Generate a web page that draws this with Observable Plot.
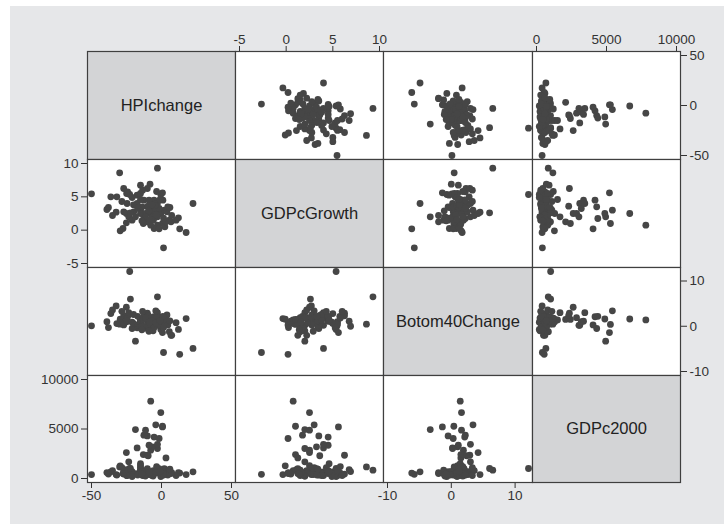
<!DOCTYPE html>
<html><head><meta charset="utf-8">
<script src="https://cdn.jsdelivr.net/npm/d3@7"></script>
<script src="https://cdn.jsdelivr.net/npm/@observablehq/plot@0.6"></script>
<style>
body{margin:0;background:#fff;font-family:'Liberation Sans',Arial,sans-serif;}
#bg{position:absolute;left:10px;top:6px;width:714px;height:518px;background:#e6e7e9;}
.cell{position:absolute;}
</style></head><body><div id="bg"></div><div id="root"></div>
<script>
const variables = ["HPIchange","GDPcGrowth","Botom40Change","GDPc2000"];

const HPIchange = [-50,-29.9,-2.9,22.5,1.45,13,17.6,12.1,-39,-37.9,-36.2,-31.9,-32.4,-29.5,-27.5,-27,-24.2,-22.7,-24.9,-15,-8.2,-10.1,-0.5,0.7,-24.6,-17.4,-15,-27,-25.1,-23.4,-21,-25.1,-17.4,-15.0,-12.6,-10.1,-5.3,-4.1,-7.7,-2.9,-0.5,2.0,3.9,5.6,0.7,-2.9,-5.3,-1.7,6.8,10.4,2.4,-7.7,-10.1,-12.6,-15.0,-19.8,-13.8,-18.6,-11.4,-6.5,-8.9,-2.9,-1.7,-15,3.2,-5.8,-13,-22.2,-9.5,-20,-6,4.5,7.3,-35,-3.5,1.0,-13.5,-9,-4.5,6.0,-28.3,-21,-6.8,-3.8,-11.5,1.5,-8.5,-17,-1.0,-14];
const GDPcGrowth = [5.45,8.6,9.3,4.0,-2.65,0.2,-0.35,1.85,3.1,3.4,5.0,5.0,2.7,-0.1,0.25,6.25,5.75,5.35,5.5,6.75,6.9,6.25,5.35,5.6,4.0,5.25,5.5,2.75,2.5,2.0,1.5,1.1,4.0,3.0,4.5,3.5,4.5,3.0,2.5,2.0,2.5,3.0,2.75,1.5,1.0,0.75,0.25,0.2,1.25,1.5,0.5,0.75,1.25,1.75,2.5,2.75,3.5,2.0,2.5,3.25,4.5,4.0,3.25,4.6,1.25,1.5,1.0,2.6,3.6,3.8,2.0,3.5,2.2,2.2,5.8,4.5,6.0,2.9,3.7,3.4,4.3,4.9,3.8,2.3,2.0,1.8,1.6,3.3,4.6,1.4];
const Botom40Change = [0.1,0.45,6.5,-4.9,-5.8,-6.2,1.7,-0.7,1.0,-0.3,2.8,0.6,4.5,1.55,0.8,2.3,2.2,12.1,1.0,1.1,0.0,2.9,-0.7,-1.4,1.8,-0.35,0.5,0.3,4.2,3.0,-0.5,1.2,0.2,1.5,2.0,-0.5,2.1,3.4,1.9,0.2,1.6,0.8,2.5,-1.2,0.4,0.6,-0.3,0.3,-2.0,0.8,1.1,1.4,0.5,2.2,1.0,0.6,0.0,-3.3,1.6,1.0,1.1,3.0,2.0,1.4,1.5,1.9,1.5,6.0,2.4,2.6,-1.0,0.3,-2.0,3.6,1.8,2.2,3.3,-1.1,0.9,1.2,3.3,0.9,1.3,0.7,1.8,-0.2,0.9,2.2,1.2,-0.8];
const GDPc2000 = [400,1170,840,670,420,550,400,600,600,450,670,350,400,1280,500,450,600,1010,300,900,700,2350,200,5210,300,500,800,600,2620,1680,700,900,3090,1100,800,4300,4180,5420,2860,3030,6660,1000,700,850,5280,800,600,4040,500,300,450,7810,1000,4380,1300,500,700,4940,4880,3200,3360,3450,1000,1500,2080,800,2420,1010,2300,400,250,350,600,800,1200,500,300,400,650,950,1100,200,300,550,250,350,600,350,700,450];

const tickValues = {
  HPIchange: [-50, 0, 50],
  GDPcGrowth: [-5, 0, 5, 10],
  Botom40Change: [-10, 0, 10],
  GDPc2000: [0, 5000, 10000]
};

const series = {HPIchange, GDPcGrowth, Botom40Change, GDPc2000};
const data = HPIchange.map((_, i) => ({
  HPIchange: HPIchange[i], GDPcGrowth: GDPcGrowth[i],
  Botom40Change: Botom40Change[i], GDPc2000: GDPc2000[i]
}));
const domains = {};
for (const v of variables) domains[v] = d3.extent(series[v].concat(tickValues[v]));

const colX = [87, 235, 383, 532, 680];
const rowY = [51, 159, 267, 375, 482];
const root = document.getElementById("root");
const style = {background: "transparent", fontFamily: "'Liberation Sans', Arial, sans-serif", fontSize: "13.5px", color: "#333", overflow: "visible"};

for (let r = 0; r < 4; r++) {
  for (let c = 0; c < 4; c++) {
    const w = colX[c + 1] - colX[c], h = rowY[r + 1] - rowY[r];
    const xv = variables[c], yv = variables[r];
    const xAxis = (c % 2 === 0) ? (r === 3 ? "bottom" : null) : (r === 0 ? "top" : null);
    const yAxis = (r % 2 === 0) ? (c === 3 ? "right" : null) : (c === 0 ? "left" : null);
    const mL = (yAxis === "left" ? 50 : 0) + 1;
    const mR = (yAxis === "right" ? 40 : 0) + 1;
    const mT = (xAxis === "top" ? 26 : 0) + 1;
    const mB = (xAxis === "bottom" ? 26 : 0) + 1;
    let chart;
    if (r === c) {
      chart = Plot.plot({
        width: w + mL + mR, height: h + mT + mB,
        marginLeft: mL, marginRight: mR, marginTop: mT, marginBottom: mB,
        style,
        marks: [
          Plot.frame({fill: "#d3d4d6", stroke: "#3f3f3f", strokeWidth: 1.2}),
          Plot.text([yv], {text: d => d, frameAnchor: "middle", fontSize: 16.5, fill: "#222"})
        ]
      });
    } else {
      chart = Plot.plot({
        width: w + mL + mR, height: h + mT + mB,
        marginLeft: mL, marginRight: mR, marginTop: mT, marginBottom: mB,
        style,
        x: {domain: domains[xv], inset: 4, axis: xAxis, ticks: tickValues[xv], tickSize: 6, tickPadding: 2, tickFormat: d => String(d), label: null},
        y: {domain: domains[yv], inset: 4, axis: yAxis, ticks: tickValues[yv], tickSize: 6, tickPadding: 3, tickFormat: d => String(d), label: null},
        marks: [
          Plot.frame({fill: "white", stroke: "#3f3f3f", strokeWidth: 1.2}),
          Plot.dot(data, {x: xv, y: yv, r: 3.4, fill: "#464646", stroke: "none"})
        ]
      });
    }
    const div = document.createElement("div");
    div.className = "cell";
    div.style.left = (colX[c] - mL) + "px";
    div.style.top = (rowY[r] - mT) + "px";
    div.style.width = (w + mL + mR) + "px";
    div.appendChild(chart);
    root.appendChild(div);
  }
}
</script>
</body></html>
